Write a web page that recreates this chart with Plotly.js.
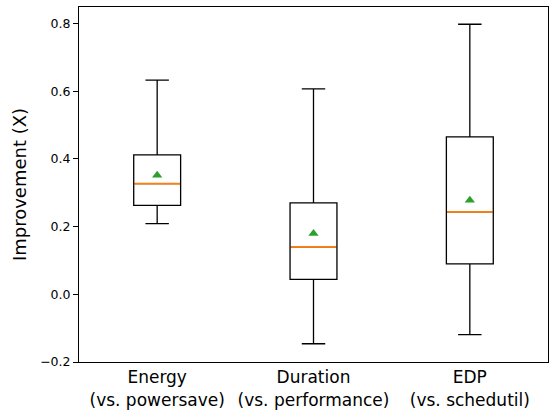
<!DOCTYPE html>
<html>
<head>
<meta charset="utf-8">
<script src="https://cdn.plot.ly/plotly-3.0.1.min.js"></script>
<style>html,body{margin:0;padding:0;background:#fff;}#chart{width:551px;height:413px;}</style>
</head>
<body>
<div id="chart"></div>
<script>
// Data
const categories = ["Energy<br>(vs. powersave)", "Duration<br>(vs. performance)", "EDP<br>(vs. schedutil)"];
const positions = [1, 2, 3];
const lowerWhisker = [0.209, -0.146, -0.119];
const q1Values = [0.263, 0.044, 0.090];
const medianValues = [0.327, 0.140, 0.2435];
const q3Values = [0.412, 0.270, 0.465];
const upperWhisker = [0.633, 0.607, 0.798];
const meanValues = [0.352, 0.180, 0.278];
const yTickVals = [-0.2, 0.0, 0.2, 0.4, 0.6, 0.8];
const yTickText = ["\u22120.2", "0.0", "0.2", "0.4", "0.6", "0.8"];

const boxWidth = 0.3;
const font = "DejaVu Sans, sans-serif";

const traces = [{
  type: "box",
  x: positions,
  q1: q1Values,
  median: medianValues,
  q3: q3Values,
  lowerfence: lowerWhisker,
  upperfence: upperWhisker,
  width: boxWidth,
  whiskerwidth: 0.5,
  line: {color: "#000000", width: 1.3},
  fillcolor: "rgba(255,255,255,0)",
  boxpoints: false,
  hoverinfo: "skip",
  showlegend: false
}];

// orange median lines
positions.forEach(function (p, i) {
  traces.push({
    type: "scatter",
    mode: "lines",
    x: [p - boxWidth / 2 + 0.004, p + boxWidth / 2 - 0.004],
    y: [medianValues[i], medianValues[i]],
    line: {color: "#ff7f0e", width: 1.8},
    hoverinfo: "skip",
    showlegend: false
  });
});

// green mean triangles
traces.push({
  type: "scatter",
  mode: "markers",
  x: positions,
  y: meanValues,
  marker: {symbol: "triangle-up", size: 9, color: "#2ca02c", line: {width: 0}},
  hoverinfo: "skip",
  showlegend: false
});

const layout = {
  width: 551,
  height: 413,
  margin: {l: 79, r: 3, t: 7, b: 51},
  paper_bgcolor: "#ffffff",
  plot_bgcolor: "#ffffff",
  font: {family: font, color: "#000000"},
  showlegend: false,
  xaxis: {
    range: [0.5, 3.5],
    tickvals: positions,
    ticktext: categories,
    ticks: "",
    tickfont: {size: 17, family: font, color: "#000"},
    showgrid: false,
    zeroline: false,
    showline: true,
    mirror: true,
    linecolor: "#000000",
    linewidth: 1
  },
  yaxis: {
    range: [-0.2, 0.849],
    tickvals: yTickVals,
    ticktext: yTickText,
    ticks: "outside",
    ticklen: 5,
    tickwidth: 1,
    tickcolor: "#000",
    tickfont: {size: 12.5, family: font, color: "#000"},
    showgrid: false,
    zeroline: false,
    showline: true,
    mirror: true,
    linecolor: "#000000",
    linewidth: 1,
    title: {text: "Improvement (X)", font: {size: 18, family: font, color: "#000"}, standoff: 8}
  }
};

Plotly.newPlot("chart", traces, layout, {staticPlot: true, displayModeBar: false});
</script>
</body>
</html>
